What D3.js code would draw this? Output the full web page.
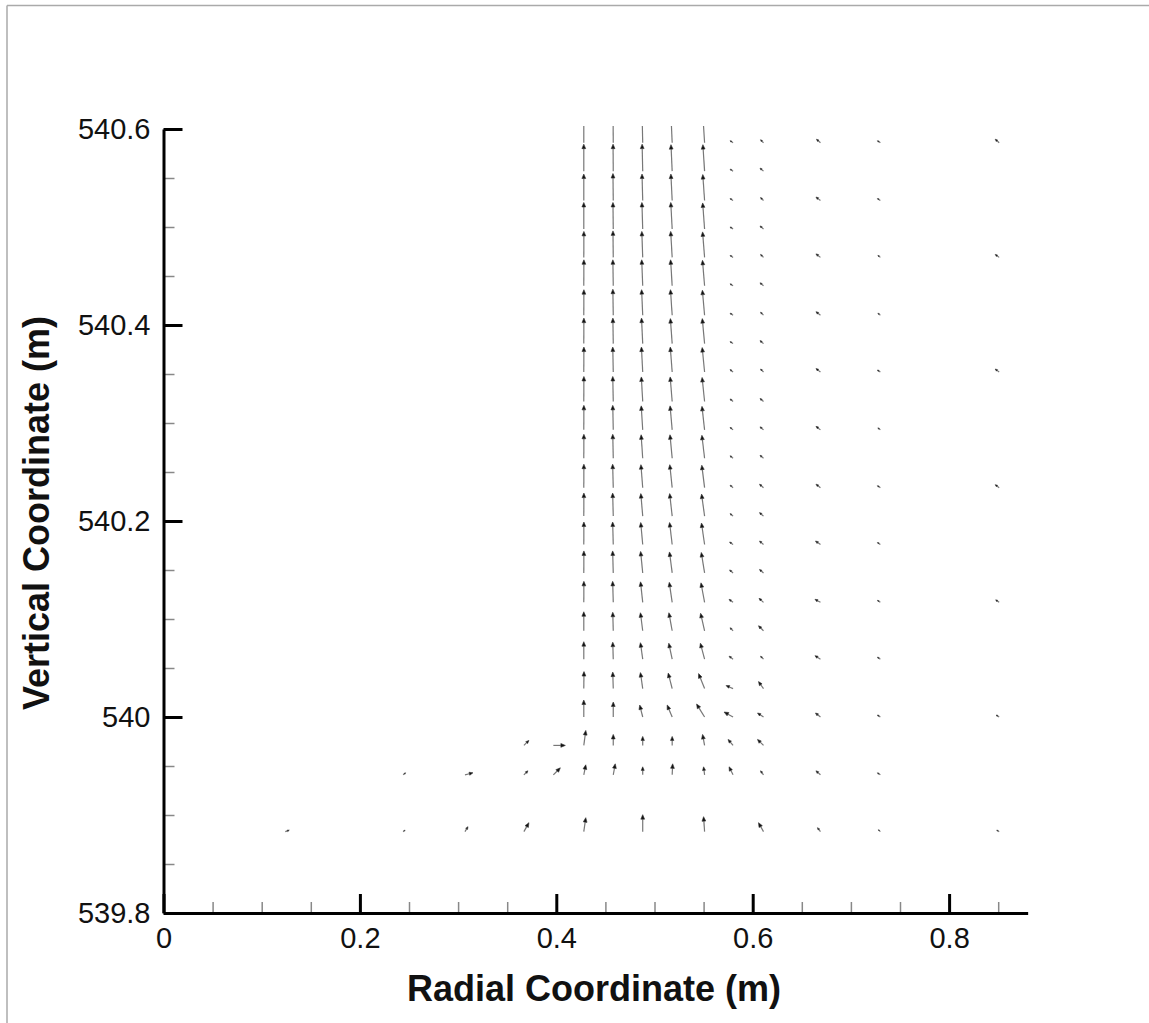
<!DOCTYPE html>
<html>
<head>
<meta charset="utf-8">
<script src="https://cdn.jsdelivr.net/npm/d3@7"></script>
<style>
  body { margin: 0; background: #fff; }
  text { font-family: "Liberation Sans", Arial, Helvetica, sans-serif; }
</style>
</head>
<body>
<svg id="chart"></svg>
<script>
var _ = null;

// grid of vector points: radial positions (m) and vertical positions (m), top row first
var colsX = [0.124, 0.244, 0.307, 0.367, 0.397, 0.428, 0.458, 0.488, 0.518, 0.551, 0.580, 0.611, 0.669, 0.730, 0.851];
var rowsY = [540.586, 540.557, 540.527, 540.498, 540.469, 540.440, 540.410, 540.381, 540.352, 540.322,
             540.293, 540.264, 540.234, 540.205, 540.176, 540.147, 540.117, 540.088, 540.059, 540.029,
             540.000, 539.971, 539.941, 539.883];

// radial velocity component (m/s), one row per rowsY entry
var uVel = [
  [_,_,_,_,_, 0, -.002, -.006, -.012, -.017, -.03, -.03, -.04, -.03, -.04],
  [_,_,_,_,_, 0, -.002, -.006, -.012, -.017, -.03, -.035, _, _, _],
  [_,_,_,_,_, 0, -.003, -.007, -.013, -.018, -.03, -.03, -.045, -.03, _],
  [_,_,_,_,_, 0, -.003, -.008, -.014, -.019, -.03, -.035, _, _, _],
  [_,_,_,_,_, .001, -.003, -.009, -.015, -.02, -.03, -.03, -.045, -.025, -.04],
  [_,_,_,_,_, .001, -.004, -.01, -.016, -.021, -.03, -.035, _, _, _],
  [_,_,_,_,_, .001, -.004, -.011, -.017, -.022, -.03, -.03, -.045, -.025, _],
  [_,_,_,_,_, .001, -.004, -.012, -.018, -.023, -.03, -.035, _, _, _],
  [_,_,_,_,_, .001, -.005, -.013, -.019, -.024, -.03, -.03, -.045, -.03, -.04],
  [_,_,_,_,_, .001, -.005, -.014, -.02, -.025, -.03, -.035, _, _, _],
  [_,_,_,_,_, .001, -.005, -.015, -.021, -.026, -.03, -.035, -.045, -.025, _],
  [_,_,_,_,_, .001, -.005, -.016, -.022, -.027, -.03, -.035, _, _, _],
  [_,_,_,_,_, .001, -.006, -.018, -.024, -.028, -.03, -.04, -.045, -.03, -.04],
  [_,_,_,_,_, .001, -.006, -.019, -.025, -.03, -.03, -.04, _, _, _],
  [_,_,_,_,_, .001, -.006, -.02, -.026, -.031, -.035, -.04, -.05, -.03, _],
  [_,_,_,_,_, .001, -.006, -.021, -.027, -.033, -.035, -.04, _, _, _],
  [_,_,_,_,_, .001, -.006, -.022, -.029, -.036, -.04, -.045, -.055, -.03, -.035],
  [_,_,_,_,_, 0, -.005, -.023, -.033, -.04, -.03, -.05, _, _, _],
  [_,_,_,_,_, 0, -.005, -.023, -.034, -.042, -.04, -.03, -.055, -.03, _],
  [_,_,_,_,_, .002, -.005, -.023, -.04, -.06, -.07, -.05, _, _, _],
  [_,_,_,_,_, 0, 0, -.03, -.05, -.08, -.09, -.06, -.05, -.03, -.03],
  [_,_,_, .05, .12, .02, 0, 0, 0, -.02, -.05, -.06, _, _, _],
  [_, .025, .08, .04, .07, .02, .02, 0, .005, -.01, -.04, -.03, -.045, -.03, _],
  [.04, .02, .03, .05, _, .02, _, 0, _, -.01, _, -.05, -.03, -.02, -.025]
];

// vertical velocity component (m/s)
var wVel = [
  [_,_,_,_,_, .27, .27, .27, .27, .265, .02, .03, .035, .02, .035],
  [_,_,_,_,_, .27, .27, .27, .265, .265, .02, .03, _, _, _],
  [_,_,_,_,_, .265, .27, .265, .265, .26, .02, .03, .035, .02, _],
  [_,_,_,_,_, .265, .265, .265, .265, .26, .02, .03, _, _, _],
  [_,_,_,_,_, .26, .265, .26, .26, .255, .02, .03, .035, .02, .03],
  [_,_,_,_,_, .26, .26, .26, .26, .255, .02, .03, _, _, _],
  [_,_,_,_,_, .255, .26, .255, .255, .25, .02, .03, .035, .02, _],
  [_,_,_,_,_, .255, .255, .255, .25, .25, .02, .03, _, _, _],
  [_,_,_,_,_, .25, .25, .25, .25, .245, .025, .03, .035, .02, .03],
  [_,_,_,_,_, .25, .25, .245, .245, .24, .025, .03, _, _, _],
  [_,_,_,_,_, .245, .245, .24, .24, .235, .025, .03, .035, .02, _],
  [_,_,_,_,_, .24, .24, .235, .235, .23, .025, .03, _, _, _],
  [_,_,_,_,_, .235, .235, .23, .23, .225, .025, .035, .035, .02, .03],
  [_,_,_,_,_, .23, .23, .225, .225, .22, .025, .035, _, _, _],
  [_,_,_,_,_, .225, .225, .22, .22, .215, .025, .035, .035, .02, _],
  [_,_,_,_,_, .22, .22, .215, .21, .205, .03, .035, _, _, _],
  [_,_,_,_,_, .21, .21, .205, .2, .195, .03, .04, .03, .02, .025],
  [_,_,_,_,_, .19, .185, .18, .18, .175, .03, .05, _, _, _],
  [_,_,_,_,_, .175, .17, .165, .16, .16, .03, .03, .035, .02, _],
  [_,_,_,_,_, .17, .165, .16, .155, .15, .03, .07, _, _, _],
  [_,_,_,_,_, .17, .15, .12, .12, .13, .05, .04, .04, .02, .02],
  [_,_,_, .05, 0, .15, .11, .09, .09, .11, .06, .06, _, _, _],
  [_, .02, .02, .04, .07, .10, .11, .08, .11, .08, .08, .04, .04, .02, _],
  [.015, .015, .05, .09, _, .14, _, .17, _, .15, _, .09, .04, .02, .015]
];

var xTicks = [0, 0.2, 0.4, 0.6, 0.8];
var xTickLabels = ["0", "0.2", "0.4", "0.6", "0.8"];
var xMinor = [0.05, 0.1, 0.15, 0.25, 0.3, 0.35, 0.45, 0.5, 0.55, 0.65, 0.7, 0.75, 0.85];
var yTicks = [539.8, 540, 540.2, 540.4, 540.6];
var yTickLabels = ["539.8", "540", "540.2", "540.4", "540.6"];
var yMinor = [539.85, 539.9, 539.95, 540.05, 540.1, 540.15, 540.25, 540.3, 540.35, 540.45, 540.5, 540.55];

var width = 1149, height = 1023;

var svg = d3.select("#chart")
  .attr("width", width)
  .attr("height", height);

svg.append("rect").attr("width", width).attr("height", height).attr("fill", "#fff");

// frame lines at the top and left edge
svg.append("line").attr("x1", 7).attr("y1", 5.5).attr("x2", width).attr("y2", 5.5)
  .attr("stroke", "#aaa").attr("stroke-width", 1.5);
svg.append("line").attr("x1", 7).attr("y1", 5.5).attr("x2", 7).attr("y2", height)
  .attr("stroke", "#aaa").attr("stroke-width", 1.5);

var x = d3.scaleLinear().domain([0, 0.88]).range([163.5, 163.5 + 0.88 * 982]);
var y = d3.scaleLinear().domain([539.8, 540.6]).range([913, 129]);
var len = d3.scaleLinear().domain([0, 1]).range([0, 100]);

// minor ticks
svg.append("g")
  .attr("class", "x minor")
  .attr("transform", "translate(0," + y(539.8) + ")")
  .call(d3.axisBottom(x).tickValues(xMinor).tickSize(-11).tickSizeOuter(0).tickFormat(""));
svg.append("g")
  .attr("class", "y minor")
  .attr("transform", "translate(" + x(0) + ",0)")
  .call(d3.axisLeft(y).tickValues(yMinor).tickSize(-11).tickSizeOuter(0).tickFormat(""));
svg.selectAll(".minor .domain").remove();
svg.selectAll(".minor line").attr("stroke", "#888").attr("stroke-width", 1.5);

// vectors
svg.append("clipPath").attr("id", "plotclip")
  .append("rect")
  .attr("x", x(0)).attr("y", y(540.6) - 3)
  .attr("width", x(0.88) - x(0)).attr("height", y(539.8) - y(540.6) + 3);

var vectors = [];
rowsY.forEach(function(ry, i) {
  colsX.forEach(function(cx, j) {
    if (uVel[i][j] === null) return;
    vectors.push({x: cx, y: ry, u: uVel[i][j], w: wVel[i][j]});
  });
});

var vg = svg.append("g").attr("clip-path", "url(#plotclip)");

vectors.forEach(function(d) {
  var x0 = x(d.x), y0 = y(d.y);
  var dx = len(d.u), dy = -len(d.w);
  var L = Math.sqrt(dx * dx + dy * dy);
  if (L === 0) return;
  var ux = dx / L, uy = dy / L;
  var x1 = x0 + dx, y1 = y0 + dy;
  var h = Math.min(4.5, L * 0.45);
  var hw = h * 0.42;
  var bx = x1 - ux * h, by = y1 - uy * h;
  vg.append("line")
    .attr("x1", x0).attr("y1", y0).attr("x2", bx).attr("y2", by)
    .attr("stroke", "#777").attr("stroke-width", 1.2);
  vg.append("path")
    .attr("d", "M" + x1 + "," + y1 +
               "L" + (bx - uy * hw) + "," + (by + ux * hw) +
               "L" + (bx + uy * hw) + "," + (by - ux * hw) + "Z")
    .attr("fill", "#111").attr("stroke", "#333").attr("stroke-width", 0.6);
});

// major axes
svg.append("g")
  .attr("class", "x axis")
  .attr("transform", "translate(0," + y(539.8) + ")")
  .call(d3.axisBottom(x).tickValues(xTicks)
    .tickFormat(function(d, i) { return xTickLabels[i]; })
    .tickSize(-19).tickSizeOuter(0).tickPadding(14));

svg.append("g")
  .attr("class", "y axis")
  .attr("transform", "translate(" + x(0) + ",0)")
  .call(d3.axisLeft(y).tickValues(yTicks)
    .tickFormat(function(d, i) { return yTickLabels[i]; })
    .tickSize(-19).tickSizeOuter(0).tickPadding(13));

svg.selectAll(".axis .domain").attr("stroke", "#000").attr("stroke-width", 3);
svg.selectAll(".axis .tick line").attr("stroke", "#000").attr("stroke-width", 3);
svg.selectAll(".axis text")
  .attr("font-family", "'Liberation Sans', Arial, Helvetica, sans-serif")
  .attr("font-size", 29)
  .attr("fill", "#111");

// axis titles
svg.append("text")
  .attr("x", 594).attr("y", 1001)
  .attr("text-anchor", "middle")
  .attr("font-size", 36).attr("font-weight", "bold")
  .attr("fill", "#111")
  .text("Radial Coordinate (m)");

svg.append("text")
  .attr("transform", "translate(49,513) rotate(-90)")
  .attr("text-anchor", "middle")
  .attr("font-size", 36).attr("font-weight", "bold")
  .attr("fill", "#111")
  .text("Vertical Coordinate (m)");
</script>
</body>
</html>
